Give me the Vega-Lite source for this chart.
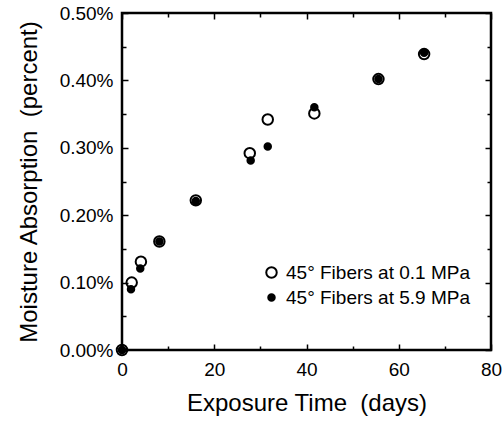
{
  "$schema": "https://vega.github.io/schema/vega-lite/v6.json",
  "width": 369,
  "height": 337,
  "autosize": {"type": "none"},
  "padding": {"left": 122, "top": 13, "right": 13, "bottom": 71},
  "background": "white",
  "config": {
    "font": "Liberation Sans",
    "view": {"stroke": "black", "strokeWidth": 2.5},
    "axis": {
      "domain": false,
      "grid": false,
      "tickColor": "black",
      "tickWidth": 1.5,
      "labelColor": "black",
      "titleColor": "black",
      "labelFont": "Liberation Sans",
      "titleFont": "Liberation Sans",
      "labelFontSize": 19,
      "titleFontSize": 24,
      "titleFontWeight": "normal"
    }
  },
  "data": {
    "values": [
      {"series": "45° Fibers at 5.9 MPa", "days": 0, "moisture": 0},
      {"series": "45° Fibers at 5.9 MPa", "days": 1.95, "moisture": 0.09},
      {"series": "45° Fibers at 5.9 MPa", "days": 3.96, "moisture": 0.121},
      {"series": "45° Fibers at 5.9 MPa", "days": 8.1, "moisture": 0.161},
      {"series": "45° Fibers at 5.9 MPa", "days": 16.0, "moisture": 0.221},
      {"series": "45° Fibers at 5.9 MPa", "days": 27.9, "moisture": 0.281},
      {"series": "45° Fibers at 5.9 MPa", "days": 31.6, "moisture": 0.302},
      {"series": "45° Fibers at 5.9 MPa", "days": 41.7, "moisture": 0.36},
      {"series": "45° Fibers at 5.9 MPa", "days": 55.6, "moisture": 0.402},
      {"series": "45° Fibers at 5.9 MPa", "days": 65.5, "moisture": 0.441},
      {"series": "45° Fibers at 0.1 MPa", "days": 0, "moisture": 0},
      {"series": "45° Fibers at 0.1 MPa", "days": 2.1, "moisture": 0.1},
      {"series": "45° Fibers at 0.1 MPa", "days": 4.1, "moisture": 0.131},
      {"series": "45° Fibers at 0.1 MPa", "days": 8.1, "moisture": 0.161},
      {"series": "45° Fibers at 0.1 MPa", "days": 16.0, "moisture": 0.222},
      {"series": "45° Fibers at 0.1 MPa", "days": 27.7, "moisture": 0.292},
      {"series": "45° Fibers at 0.1 MPa", "days": 31.6, "moisture": 0.342},
      {"series": "45° Fibers at 0.1 MPa", "days": 41.7, "moisture": 0.351},
      {"series": "45° Fibers at 0.1 MPa", "days": 55.6, "moisture": 0.402},
      {"series": "45° Fibers at 0.1 MPa", "days": 65.5, "moisture": 0.439}
    ]
  },
  "layer": [
    {
      "mark": {"type": "point", "filled": true, "stroke": "black", "strokeWidth": 2, "opacity": 1},
      "encoding": {
        "x": {
          "field": "days",
          "type": "quantitative",
          "scale": {"domain": [0, 80], "nice": false, "zero": false},
          "axis": {
            "orient": "bottom",
            "values": [0, 10, 20, 30, 40, 50, 60, 70, 80],
            "labelExpr": "datum.value % 20 == 0 ? datum.label : ''",
            "tickSize": {"condition": {"test": "datum.value % 20 == 0", "value": -6}, "value": -4},
            "labelPadding": 16,
            "labelFlush": false,
            "labelOverlap": false,
            "title": "Exposure Time\u00a0 (days)",
            "titlePadding": 10
          }
        },
        "y": {
          "field": "moisture",
          "type": "quantitative",
          "scale": {"domain": [0, 0.5], "nice": false, "zero": false},
          "axis": {
            "orient": "left",
            "values": [0, 0.05, 0.1, 0.15, 0.2, 0.25, 0.3, 0.35, 0.4, 0.45, 0.5],
            "labelExpr": "round(datum.value * 100) % 10 == 0 ? format(datum.value, '.2f') + '%' : ''",
            "tickSize": {"condition": {"test": "round(datum.value * 100) % 10 == 0", "value": -6}, "value": -4},
            "labelPadding": 15,
            "labelFlush": false,
            "labelOverlap": false,
            "title": "Moisture Absorption\u00a0 (percent)",
            "titlePadding": 18
          }
        },
        "fill": {
          "field": "series",
          "type": "nominal",
          "scale": {"domain": ["45° Fibers at 0.1 MPa", "45° Fibers at 5.9 MPa"], "range": ["transparent", "black"]},
          "legend": {
            "orient": "none",
            "legendX": 140,
            "legendY": 250,
            "title": null,
            "padding": 0,
            "rowPadding": 5,
            "labelFontSize": 19,
            "labelFont": "Liberation Sans",
            "labelColor": "black",
            "labelLimit": 0,
            "labelOffset": 5,
            "symbolStrokeColor": "black",
            "symbolStrokeWidth": 2,
            "symbolType": "circle"
          }
        },
        "size": {
          "field": "series",
          "type": "nominal",
          "scale": {"domain": ["45° Fibers at 0.1 MPa", "45° Fibers at 5.9 MPa"], "range": [110, 42]}
        }
      }
    },
    {
      "mark": {"type": "point", "opacity": 0},
      "encoding": {
        "x": {
          "field": "days",
          "type": "quantitative",
          "axis": {
            "orient": "top",
            "values": [0, 10, 20, 30, 40, 50, 60, 70, 80],
            "labels": false,
            "tickSize": {"condition": {"test": "datum.value % 20 == 0", "value": -6}, "value": -4},
            "title": null
          }
        },
        "y": {
          "field": "moisture",
          "type": "quantitative",
          "axis": {
            "orient": "right",
            "values": [0, 0.05, 0.1, 0.15, 0.2, 0.25, 0.3, 0.35, 0.4, 0.45, 0.5],
            "labels": false,
            "tickSize": {"condition": {"test": "round(datum.value * 100) % 10 == 0", "value": -6}, "value": -4},
            "title": null
          }
        }
      }
    }
  ],
  "resolve": {"axis": {"x": "independent", "y": "independent"}}
}
